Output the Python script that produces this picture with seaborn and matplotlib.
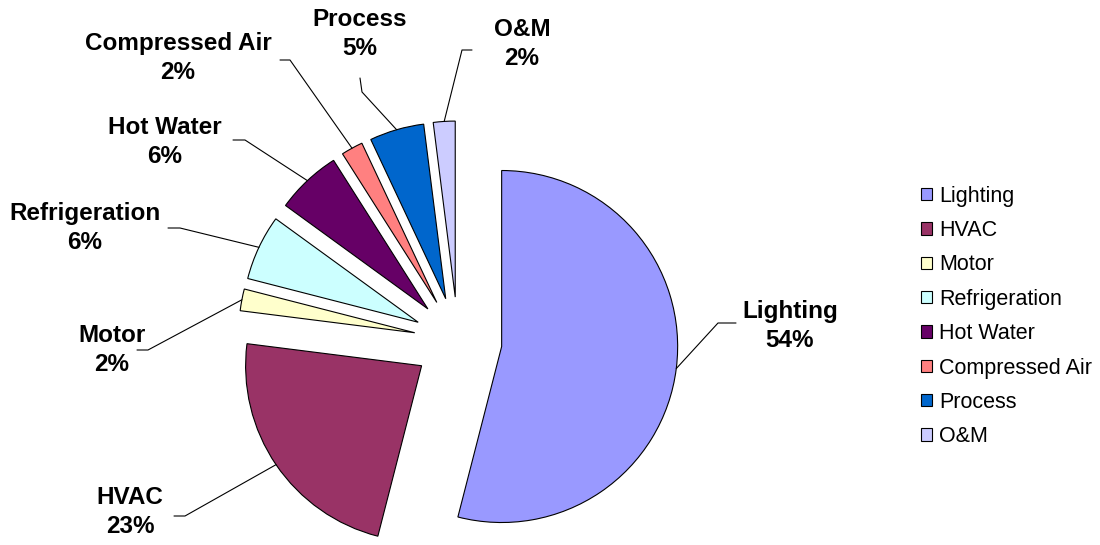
import numpy as np
import matplotlib
matplotlib.use("Agg")
import matplotlib.pyplot as plt
import seaborn as sns

# Datos del grafico
categories = ['Lighting', 'HVAC', 'Motor', 'Refrigeration', 'Hot Water',
              'Compressed Air', 'Process', 'O&M']
shares = [54, 23, 2, 6, 6, 2, 5, 2]
colors = ['#9999FF', '#993366', '#FFFFCC', '#CCFFFF', '#660066',
          '#FF8080', '#0066CC', '#CCCCFF']

sns.set_theme(style='white')
plt.rcParams['font.family'] = ['Liberation Sans', 'DejaVu Sans']
plt.rcParams['text.color'] = 'black'

W, H = 1100, 545
CX, CY, R = 458, 341, 176   # centro y radio del pastel en pixeles


def px(x, y):
    # pixeles de la imagen -> coordenadas de datos
    return (x - CX) / R, (CY - y) / R


fig = plt.figure(figsize=(W / 100, H / 100), dpi=100)
ax = fig.add_axes([0, 0, 1, 1])

wedges, _ = ax.pie(shares, colors=colors, startangle=90, counterclock=False,
                   explode=[0.25] * len(shares),
                   wedgeprops=dict(edgecolor='black', linewidth=0.8))
ax.set_xlim((0 - CX) / R, (W - CX) / R)
ax.set_ylim((CY - H) / R, CY / R)
ax.axis('off')

# Etiquetas: (centro del texto, codo, fin del trazo) en pixeles
label_pos = {
    'Lighting': ((790, 326), (718, 323), (736, 323)),
    'HVAC': ((130, 512), (185, 516), (174, 516)),
    'Motor': ((112, 350), (148, 350), (137, 350)),
    'Refrigeration': ((85, 228), (180, 228), (168, 228)),
    'Hot Water': ((165, 142), (245, 140), (233, 140)),
    'Compressed Air': ((178, 58), (290, 60), (280, 60)),
    'Process': ((360, 34), (362, 92), (360, 78)),
    'O&M': ((522, 44), (462, 50), (472, 50)),
}

for w, cat, val in zip(wedges, categories, shares):
    th = np.deg2rad((w.theta1 + w.theta2) / 2)
    cx, cy = w.center
    ax0 = cx + w.r * np.cos(th)
    ay0 = cy + w.r * np.sin(th)
    (tx, ty), elbow, end = label_pos[cat]
    ex, ey = px(*elbow)
    fx, fy = px(*end)
    ax.plot([ax0, ex, fx], [ay0, ey, fy], color='black', lw=0.8)
    ax.text(*px(tx, ty), f'{cat}\n{val}%', ha='center', va='center',
            fontsize=17.5, fontweight='bold', linespacing=1.35,
            color='black')

leg = fig.legend(wedges, categories, loc='upper left',
                 bbox_to_anchor=(910 / W, 1 - 175 / H), frameon=False,
                 fontsize=15.5, handlelength=0.5, handleheight=0.5,
                 handletextpad=0.35, labelspacing=0.62, borderpad=0)
for h in leg.legend_handles:
    h.set_linewidth(0.8)

fig.savefig('out.png', dpi=100)
